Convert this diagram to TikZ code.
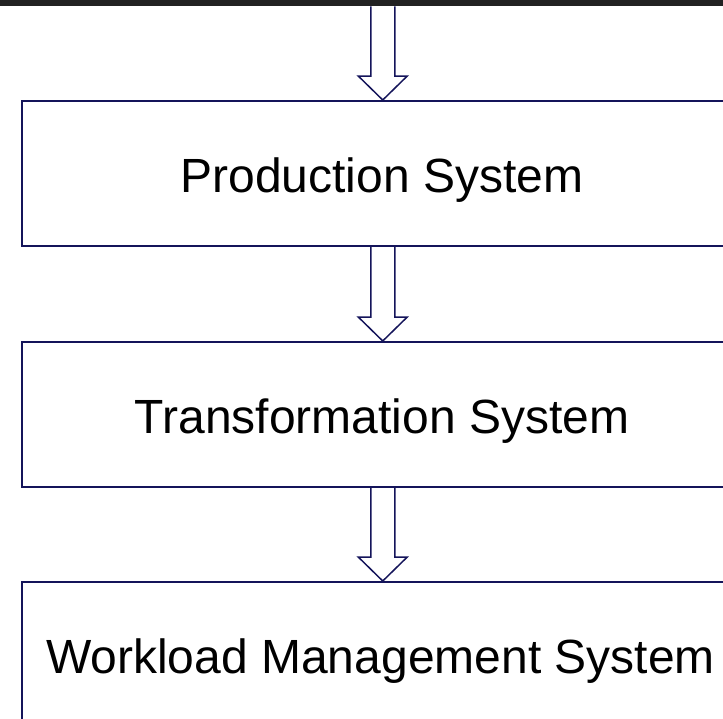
\documentclass[tikz,border=0pt]{standalone}
\usepackage{fontspec}
\setmainfont{Liberation Sans}
\usetikzlibrary{calc}
\definecolor{navy}{RGB}{20,20,90}
\definecolor{barcol}{RGB}{34,34,34}
\tikzset{
  blk/.style={draw=navy, line width=1.5pt, minimum width=722pt, minimum height=145pt, inner sep=0pt, anchor=north west},
  lbl/.style={inner sep=0pt, anchor=base, font=\fontsize{48}{57}\selectfont},
  hollowarr/.style={draw=navy, line width=1.5pt, line join=miter}
}
\begin{document}
\begin{tikzpicture}[x=1pt,y=-1pt]
\useasboundingbox (0,0) rectangle (723,718);
\clip (0,0) rectangle (723,718);
\node[fill=barcol, minimum width=723pt, minimum height=6pt, inner sep=0pt, anchor=north west] (bar) at (0,0) {};
\node[blk] (p) at (21,100) {};
\node[blk] (t) at (21,341) {};
\node[blk] (w) at (21,581) {};
\node[lbl] (pl) at (382,192) {Production System};
\node[lbl] (tl) at (382,433) {Transformation System};
\node[lbl] (wl) at (380.5,673) {Workload Management System};
\draw[hollowarr] let \p1=(bar.south), \p2=(p.north) in
  (\x2-12pt,\y1) -- (\x2-12pt,\y2+24pt) -- (\x2-24.5pt,\y2+24pt) -- (\x2,\y2) -- (\x2+24.5pt,\y2+24pt) -- (\x2+12pt,\y2+24pt) -- (\x2+12pt,\y1);
\draw[hollowarr] let \p1=(p.south), \p2=(t.north) in
  (\x2-12pt,\y1) -- (\x2-12pt,\y2+24pt) -- (\x2-24.5pt,\y2+24pt) -- (\x2,\y2) -- (\x2+24.5pt,\y2+24pt) -- (\x2+12pt,\y2+24pt) -- (\x2+12pt,\y1);
\draw[hollowarr] let \p1=(t.south), \p2=(w.north) in
  (\x2-12pt,\y1) -- (\x2-12pt,\y2+24pt) -- (\x2-24.5pt,\y2+24pt) -- (\x2,\y2) -- (\x2+24.5pt,\y2+24pt) -- (\x2+12pt,\y2+24pt) -- (\x2+12pt,\y1);
\end{tikzpicture}
\end{document}
